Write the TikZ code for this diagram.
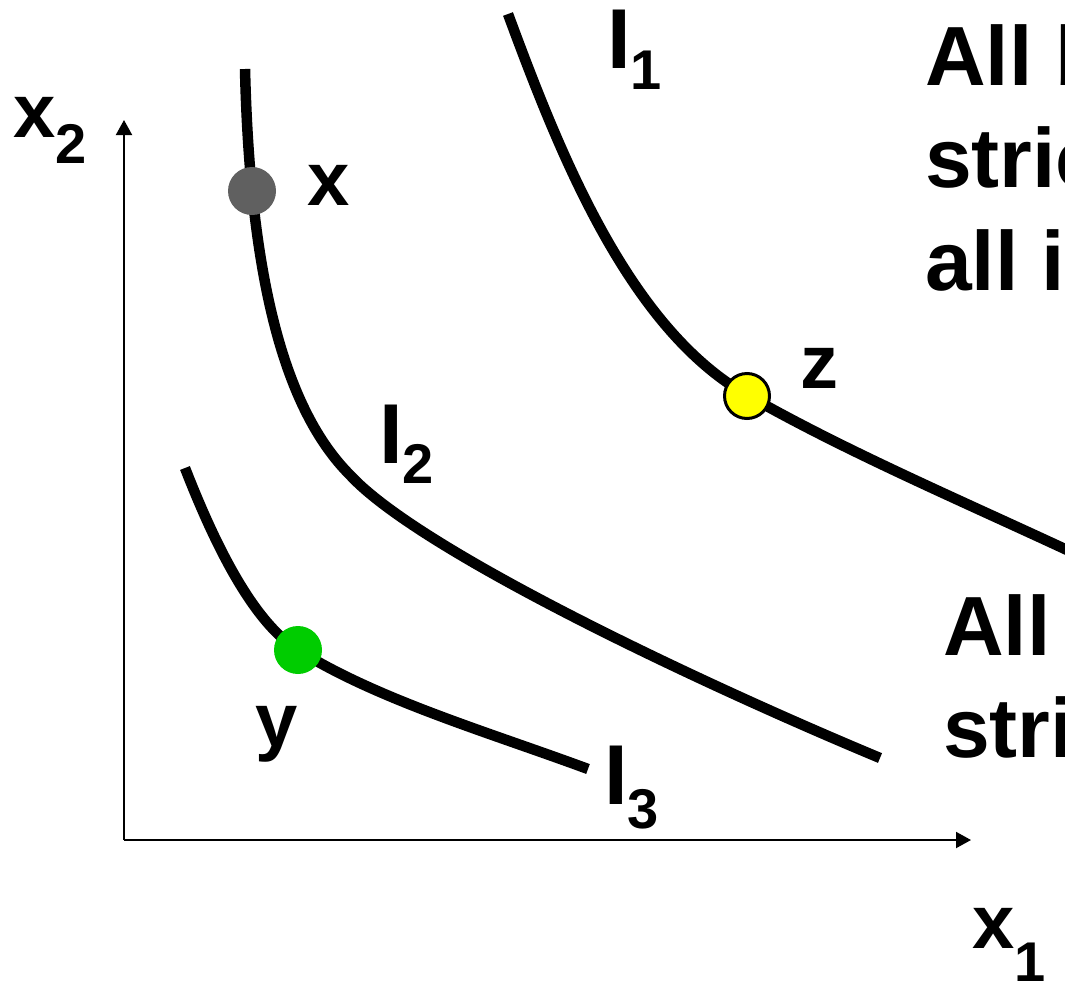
\documentclass[tikz,border=0pt]{standalone}
\usepackage{fontspec}
\setmainfont{Liberation Sans}
\usetikzlibrary{arrows.meta}
\definecolor{dotgray}{HTML}{606060}
\definecolor{dotyellow}{HTML}{FFFF00}
\definecolor{dotgreen}{HTML}{00CC00}
\tikzset{
  curve/.style={line width=10.5pt, line cap=butt},
  axis/.style={line width=2pt, -{Triangle[length=15pt,width=16pt]}},
  bigtext/.style={inner sep=0pt, anchor=base west, font=\fontsize{84}{100}\bfseries\selectfont},
  lbl/.style={inner sep=0pt, anchor=base west, font=\fontsize{76}{76}\bfseries\selectfont},
  ilbl/.style={inner sep=0pt, anchor=base west, font=\fontsize{85}{85}\bfseries\selectfont},
  dot/.style={circle, inner sep=0pt, minimum size=48pt},
}
\newcommand{\subdrop}[2]{\raisebox{-#1pt}{\fontsize{56}{56}\selectfont #2}}
\begin{document}
\begin{tikzpicture}[x=1pt,y=-1pt]
\useasboundingbox (0,0) rectangle (1065,980);
\clip (0,0) rectangle (1065,980);
% axes
\coordinate (O) at (124,840);
\coordinate (Ytop) at (124,120);
\coordinate (Xend) at (971,840);
\draw[axis] (O) -- (Ytop);
\draw[axis] (O) -- (Xend);
% curves
\draw[curve] (508,14) .. controls (558,149) and (627,327) .. (747,395)
                      .. controls (847,452) and (960,500) .. (1080,556);
\draw[curve] (245,69) .. controls (250,280) and (285,410) .. (350,475)
                      .. controls (420,551) and (700,683) .. (880,758);
\draw[curve] (185,468) .. controls (215,545) and (253,622) .. (298,650)
                       .. controls (378,700) and (488,732) .. (588,769);
% dots
\node[dot, fill=dotgray] (px) at (252,191) {};
\node[dot, fill=dotyellow, draw=black, line width=3pt, minimum size=45pt] (pz) at (747,396) {};
\node[dot, fill=dotgreen] (py) at (298,650) {};
% point labels
\node[lbl] (lx) at (307,205) {x};
\node[lbl] (lz) at (800,388) {z};
\node[lbl] (ly) at (255,746) {y};
% curve labels
\node[ilbl] (l1) at (607,68) {I\subdrop{21}{1}};
\node[ilbl] (l2) at (379,463) {I\subdrop{20}{2}};
\node[ilbl] (l3) at (604,804) {I\subdrop{24}{3}};
% axis labels
\node[lbl] (ax2) at (13,137) {x\subdrop{26}{2}};
\node[lbl] (ax1) at (972,948) {x\subdrop{33}{1}};
% texts
\node[bigtext] (t1) at (925,85) {All bundles in};
\node[bigtext] (t2) at (925,187) {strictly};
\node[bigtext] (t3) at (925,290) {all in};
\node[bigtext] (t4) at (943,655) {All bundles};
\node[bigtext] (t5) at (943,757) {strictly};
\end{tikzpicture}
\end{document}
